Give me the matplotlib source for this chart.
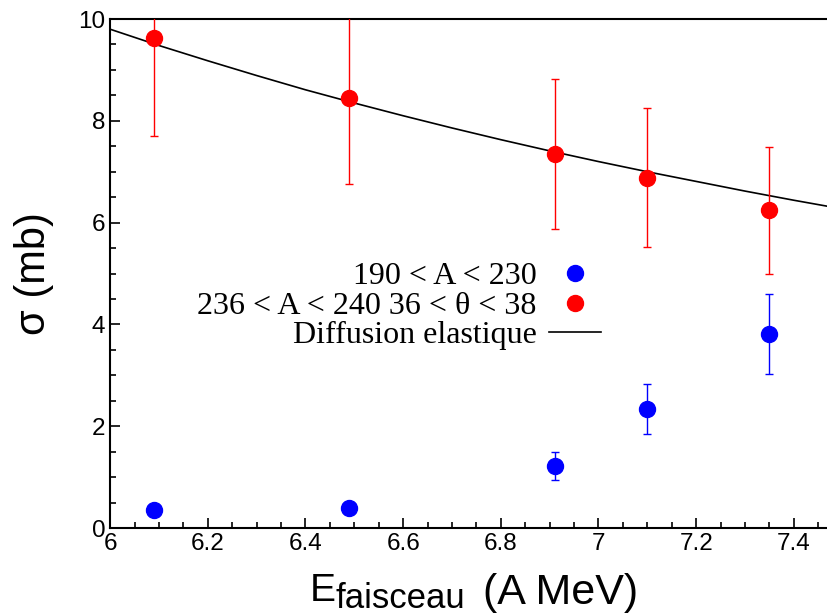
import matplotlib.pyplot as plt
from matplotlib.ticker import MultipleLocator
from matplotlib.lines import Line2D

# beam energies (A MeV)
energy = [6.09, 6.49, 6.91, 7.10, 7.35]

# 190 < A < 230
sig_blue = [0.35, 0.40, 1.22, 2.34, 3.81]
err_blue_lo = [0.0, 0.0, 0.27, 0.49, 0.79]
err_blue_hi = [0.0, 0.0, 0.28, 0.49, 0.79]

# 236 < A < 240, 36 < theta < 38
sig_red = [9.62, 8.45, 7.35, 6.88, 6.24]
err_red_lo = [1.92, 1.69, 1.47, 1.36, 1.25]
err_red_hi = [1.92, 1.69, 1.47, 1.38, 1.25]

# elastic diffusion curve
curve_x = [6.0, 6.1, 6.2, 6.3, 6.4, 6.5, 6.6, 6.7, 6.8, 6.9, 7.0, 7.1, 7.2, 7.3, 7.4, 7.47]
curve_y = [9.80, 9.48, 9.18, 8.89, 8.61, 8.35, 8.10, 7.86, 7.63, 7.41, 7.20, 7.00, 6.81, 6.62, 6.44, 6.32]

labels = ['190 < A < 230', '236 < A < 240 36 < θ < 38', 'Diffusion elastique']

fig = plt.figure(figsize=(8.28, 6.14), dpi=100)
ax = fig.add_axes([0.133, 0.140, 0.867, 0.829])

ax.plot(curve_x, curve_y, color='black', lw=1.2, zorder=2)
ax.errorbar(energy, sig_blue, yerr=[err_blue_lo, err_blue_hi], fmt='o', color='#0000ff',
            ms=11.5, elinewidth=1, capsize=3, capthick=1, zorder=3)
ax.errorbar(energy, sig_red, yerr=[err_red_lo, err_red_hi], fmt='o', color='#ff0000',
            ms=11.5, elinewidth=1, capsize=3, capthick=1, zorder=3)

ax.set_xlim(6, 7.47)
ax.set_ylim(0, 10)
ax.xaxis.set_minor_locator(MultipleLocator(0.05))
ax.yaxis.set_major_locator(MultipleLocator(2))
ax.yaxis.set_minor_locator(MultipleLocator(0.5))
ax.set_xticks([6, 6.2, 6.4, 6.6, 6.8, 7, 7.2, 7.4])
ax.set_xticklabels(['6', '6.2', '6.4', '6.6', '6.8', '7', '7.2', '7.4'])
ax.tick_params(which='both', direction='in', top=False, right=False,
               labelsize=17.5, width=1.2)
ax.tick_params(which='major', length=7)
ax.tick_params(which='minor', length=4)
for lab in ax.get_xticklabels() + ax.get_yticklabels():
    lab.set_fontfamily('Liberation Sans')
ax.spines['right'].set_visible(False)
for s in ['left', 'bottom', 'top']:
    ax.spines[s].set_linewidth(1.5)

# x label: E with a large subscript
fig.text(310 / 828, 1 - 601 / 614, 'E', fontsize=28, family='Liberation Sans', va='baseline')
fig.text(336 / 828, 1 - 608 / 614, 'faisceau', fontsize=25, family='Liberation Sans', va='baseline')
fig.text(483 / 828, 1 - 604 / 614, '(A MeV)', fontsize=31, family='Liberation Sans', va='baseline')

ax.set_ylabel('σ (mb)', fontsize=30, family='Liberation Sans')
ax.yaxis.set_label_coords(-0.078, 0.50)

handles = [
    Line2D([], [], marker='o', ls='none', color='#0000ff', ms=11.5),
    Line2D([], [], marker='o', ls='none', color='#ff0000', ms=11.5),
    Line2D([], [], color='black', lw=1.2),
]
ax.legend(handles, labels, markerfirst=False, frameon=False, loc='upper right',
          bbox_to_anchor=(0.760, 0.620), bbox_transform=fig.transFigure,
          prop={'family': 'Liberation Serif', 'size': 23},
          handlelength=1.6, handletextpad=0.4, labelspacing=0.0)

fig.savefig('out.png', dpi=100)
